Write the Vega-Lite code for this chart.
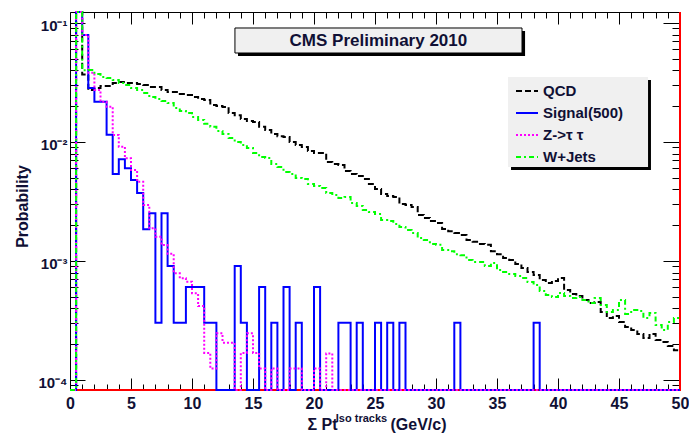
{
  "$schema": "https://vega.github.io/schema/vega-lite/v6.json",
  "width": 610,
  "height": 378,
  "autosize": {"type": "none"},
  "padding": {"left": 70, "top": 12, "right": 9, "bottom": 43},
  "background": "white",
  "config": {
    "view": {"stroke": "black", "strokeWidth": 1},
    "font": "Liberation Sans",
    "mark": {"invalid": "show"}
  },
  "data": {"values": [{}]},
  "datasets": {
    "hist": [
      {"x": 0, "QCD": 0, "Signal(500)": 0, "Z->τ τ": 0, "W+Jets": 0},
      {"x": 0.5, "QCD": 0.3, "Signal(500)": 0.3, "Z->τ τ": 0.3, "W+Jets": 0.3},
      {"x": 1, "QCD": 0.037, "Signal(500)": 0.0793, "Z->τ τ": 0.0793, "W+Jets": 0.04},
      {"x": 1.5, "QCD": 0.0273, "Signal(500)": 0.0284, "Z->τ τ": 0.0382, "W+Jets": 0.0403},
      {"x": 2, "QCD": 0.0284, "Signal(500)": 0.0218, "Z->τ τ": 0.0274, "W+Jets": 0.0373},
      {"x": 2.5, "QCD": 0.0296, "Signal(500)": 0.0218, "Z->τ τ": 0.0218, "W+Jets": 0.0352},
      {"x": 3, "QCD": 0.0296, "Signal(500)": 0.0115, "Z->τ τ": 0.0198, "W+Jets": 0.0345},
      {"x": 3.5, "QCD": 0.0313, "Signal(500)": 0.00538, "Z->τ τ": 0.01146, "W+Jets": 0.0332},
      {"x": 4, "QCD": 0.0319, "Signal(500)": 0.00716, "Z->τ τ": 0.00912, "W+Jets": 0.0313},
      {"x": 4.5, "QCD": 0.0313, "Signal(500)": 0.00601, "Z->τ τ": 0.0073, "W+Jets": 0.0301},
      {"x": 5, "QCD": 0.0313, "Signal(500)": 0.0048, "Z->τ τ": 0.00582, "W+Jets": 0.0284},
      {"x": 5.5, "QCD": 0.0307, "Signal(500)": 0.00372, "Z->τ τ": 0.00463, "W+Jets": 0.0273},
      {"x": 6, "QCD": 0.0301, "Signal(500)": 0.00185, "Z->τ τ": 0.00296, "W+Jets": 0.0258},
      {"x": 6.5, "QCD": 0.029, "Signal(500)": 0.00252, "Z->τ τ": 0.00188, "W+Jets": 0.0239},
      {"x": 7, "QCD": 0.029, "Signal(500)": 0.000303, "Z->τ τ": 0.0016, "W+Jets": 0.023},
      {"x": 7.5, "QCD": 0.0273, "Signal(500)": 0.00252, "Z->τ τ": 0.00136, "W+Jets": 0.0221},
      {"x": 8, "QCD": 0.0263, "Signal(500)": 0.000909, "Z->τ τ": 0.00115, "W+Jets": 0.0213},
      {"x": 8.5, "QCD": 0.0263, "Signal(500)": 0.000303, "Z->τ τ": 0.000789, "W+Jets": 0.0193},
      {"x": 9, "QCD": 0.0253, "Signal(500)": 0.000303, "Z->τ τ": 0.000716, "W+Jets": 0.0182},
      {"x": 9.5, "QCD": 0.0248, "Signal(500)": 0.000606, "Z->τ τ": 0.00067, "W+Jets": 0.0175},
      {"x": 10, "QCD": 0.0239, "Signal(500)": 0.000606, "Z->τ τ": 0.000536, "W+Jets": 0.0162},
      {"x": 10.5, "QCD": 0.023, "Signal(500)": 0.000606, "Z->τ τ": 0.000419, "W+Jets": 0.0153},
      {"x": 11, "QCD": 0.0225, "Signal(500)": 0.000303, "Z->τ τ": 0.000169, "W+Jets": 0.0142},
      {"x": 11.5, "QCD": 0.0205, "Signal(500)": 0.000303, "Z->τ τ": 0.000125, "W+Jets": 0.0134},
      {"x": 12, "QCD": 0.0201, "Signal(500)": 0, "Z->τ τ": 0.000247, "W+Jets": 0.0124},
      {"x": 12.5, "QCD": 0.0197, "Signal(500)": 0, "Z->τ τ": 0.000206, "W+Jets": 0.0117},
      {"x": 13, "QCD": 0.0175, "Signal(500)": 0, "Z->τ τ": 0.000206, "W+Jets": 0.0108},
      {"x": 13.5, "QCD": 0.0168, "Signal(500)": 0.000909, "Z->τ τ": 0, "W+Jets": 0.01},
      {"x": 14, "QCD": 0.0156, "Signal(500)": 0.000303, "Z->τ τ": 0.000169, "W+Jets": 0.00944},
      {"x": 14.5, "QCD": 0.015, "Signal(500)": 0, "Z->τ τ": 0.000247, "W+Jets": 0.00891},
      {"x": 15, "QCD": 0.0147, "Signal(500)": 0, "Z->τ τ": 0.000169, "W+Jets": 0.00808},
      {"x": 15.5, "QCD": 0.0134, "Signal(500)": 0.000606, "Z->τ τ": 0.000125, "W+Jets": 0.00748},
      {"x": 16, "QCD": 0.0126, "Signal(500)": 0, "Z->τ τ": 0, "W+Jets": 0.00734},
      {"x": 16.5, "QCD": 0.0117, "Signal(500)": 0.000303, "Z->τ τ": 0.000125, "W+Jets": 0.00653},
      {"x": 17, "QCD": 0.0112, "Signal(500)": 0, "Z->τ τ": 0, "W+Jets": 0.00616},
      {"x": 17.5, "QCD": 0.011, "Signal(500)": 0.000606, "Z->τ τ": 0, "W+Jets": 0.0056},
      {"x": 18, "QCD": 0.01, "Signal(500)": 0, "Z->τ τ": 0.000125, "W+Jets": 0.00539},
      {"x": 18.5, "QCD": 0.00944, "Signal(500)": 0.000303, "Z->τ τ": 0.000125, "W+Jets": 0.00498},
      {"x": 19, "QCD": 0.00908, "Signal(500)": 0, "Z->τ τ": 0, "W+Jets": 0.00489},
      {"x": 19.5, "QCD": 0.0084, "Signal(500)": 0, "Z->τ τ": 0, "W+Jets": 0.00443},
      {"x": 20, "QCD": 0.00808, "Signal(500)": 0.000606, "Z->τ τ": 0.000125, "W+Jets": 0.00427},
      {"x": 20.5, "QCD": 0.00808, "Signal(500)": 0, "Z->τ τ": 0, "W+Jets": 0.00411},
      {"x": 21, "QCD": 0.00679, "Signal(500)": 0, "Z->τ τ": 0.000167, "W+Jets": 0.00373},
      {"x": 21.5, "QCD": 0.00653, "Signal(500)": 0, "Z->τ τ": 0, "W+Jets": 0.00359},
      {"x": 22, "QCD": 0.00641, "Signal(500)": 0.000303, "Z->τ τ": 0, "W+Jets": 0.00338},
      {"x": 22.5, "QCD": 0.00571, "Signal(500)": 0.000303, "Z->τ τ": 0, "W+Jets": 0.00345},
      {"x": 23, "QCD": 0.00539, "Signal(500)": 0, "Z->τ τ": 0, "W+Jets": 0.00307},
      {"x": 23.5, "QCD": 0.00519, "Signal(500)": 0.000303, "Z->τ τ": 0, "W+Jets": 0.0029},
      {"x": 24, "QCD": 0.00489, "Signal(500)": 0, "Z->τ τ": 0, "W+Jets": 0.00268},
      {"x": 24.5, "QCD": 0.00443, "Signal(500)": 0, "Z->τ τ": 0, "W+Jets": 0.00258},
      {"x": 25, "QCD": 0.00403, "Signal(500)": 0.000303, "Z->τ τ": 0, "W+Jets": 0.00248},
      {"x": 25.5, "QCD": 0.00366, "Signal(500)": 0, "Z->τ τ": 0, "W+Jets": 0.00221},
      {"x": 26, "QCD": 0.00352, "Signal(500)": 0.000303, "Z->τ τ": 0, "W+Jets": 0.00217},
      {"x": 26.5, "QCD": 0.00345, "Signal(500)": 0, "Z->τ τ": 0, "W+Jets": 0.00205},
      {"x": 27, "QCD": 0.00301, "Signal(500)": 0.000303, "Z->τ τ": 0, "W+Jets": 0.00193},
      {"x": 27.5, "QCD": 0.00296, "Signal(500)": 0, "Z->τ τ": 0, "W+Jets": 0.00182},
      {"x": 28, "QCD": 0.00284, "Signal(500)": 0, "Z->τ τ": 0, "W+Jets": 0.00172},
      {"x": 28.5, "QCD": 0.00244, "Signal(500)": 0, "Z->τ τ": 0, "W+Jets": 0.00156},
      {"x": 29, "QCD": 0.0023, "Signal(500)": 0, "Z->τ τ": 0, "W+Jets": 0.0015},
      {"x": 29.5, "QCD": 0.00217, "Signal(500)": 0, "Z->τ τ": 0, "W+Jets": 0.00139},
      {"x": 30, "QCD": 0.00209, "Signal(500)": 0, "Z->τ τ": 0, "W+Jets": 0.00137},
      {"x": 30.5, "QCD": 0.00186, "Signal(500)": 0, "Z->τ τ": 0, "W+Jets": 0.00124},
      {"x": 31, "QCD": 0.00178, "Signal(500)": 0, "Z->τ τ": 0, "W+Jets": 0.00121},
      {"x": 31.5, "QCD": 0.00172, "Signal(500)": 0.000303, "Z->τ τ": 0, "W+Jets": 0.00114},
      {"x": 32, "QCD": 0.00165, "Signal(500)": 0, "Z->τ τ": 0, "W+Jets": 0.00112},
      {"x": 32.5, "QCD": 0.0015, "Signal(500)": 0, "Z->τ τ": 0, "W+Jets": 0.00102},
      {"x": 33, "QCD": 0.00145, "Signal(500)": 0, "Z->τ τ": 0, "W+Jets": 0.000981},
      {"x": 33.5, "QCD": 0.00139, "Signal(500)": 0, "Z->τ τ": 0, "W+Jets": 0.000981},
      {"x": 34, "QCD": 0.00137, "Signal(500)": 0, "Z->τ τ": 0, "W+Jets": 0.000908},
      {"x": 34.5, "QCD": 0.00121, "Signal(500)": 0, "Z->τ τ": 0, "W+Jets": 0.000962},
      {"x": 35, "QCD": 0.00114, "Signal(500)": 0, "Z->τ τ": 0, "W+Jets": 0.00084},
      {"x": 35.5, "QCD": 0.00106, "Signal(500)": 0, "Z->τ τ": 0, "W+Jets": 0.000808},
      {"x": 36, "QCD": 0.00102, "Signal(500)": 0, "Z->τ τ": 0, "W+Jets": 0.000778},
      {"x": 36.5, "QCD": 0.000944, "Signal(500)": 0, "Z->τ τ": 0, "W+Jets": 0.000748},
      {"x": 37, "QCD": 0.000873, "Signal(500)": 0, "Z->τ τ": 0, "W+Jets": 0.00072},
      {"x": 37.5, "QCD": 0.000808, "Signal(500)": 0, "Z->τ τ": 0, "W+Jets": 0.000666},
      {"x": 38, "QCD": 0.000763, "Signal(500)": 0.000303, "Z->τ τ": 0, "W+Jets": 0.000628},
      {"x": 38.5, "QCD": 0.000692, "Signal(500)": 0, "Z->τ τ": 0, "W+Jets": 0.00056},
      {"x": 39, "QCD": 0.000653, "Signal(500)": 0, "Z->τ τ": 0, "W+Jets": 0.000519},
      {"x": 39.5, "QCD": 0.000679, "Signal(500)": 0, "Z->τ τ": 0, "W+Jets": 0.000498},
      {"x": 40, "QCD": 0.00072, "Signal(500)": 0, "Z->τ τ": 0, "W+Jets": 0.000539},
      {"x": 40.5, "QCD": 0.000571, "Signal(500)": 0, "Z->τ τ": 0, "W+Jets": 0.000508},
      {"x": 41, "QCD": 0.000529, "Signal(500)": 0, "Z->τ τ": 0, "W+Jets": 0.000489},
      {"x": 41.5, "QCD": 0.000508, "Signal(500)": 0, "Z->τ τ": 0, "W+Jets": 0.000498},
      {"x": 42, "QCD": 0.00047, "Signal(500)": 0, "Z->τ τ": 0, "W+Jets": 0.00047},
      {"x": 42.5, "QCD": 0.000443, "Signal(500)": 0, "Z->τ τ": 0, "W+Jets": 0.000443},
      {"x": 43, "QCD": 0.000452, "Signal(500)": 0, "Z->τ τ": 0, "W+Jets": 0.000489},
      {"x": 43.5, "QCD": 0.000373, "Signal(500)": 0, "Z->τ τ": 0, "W+Jets": 0.000427},
      {"x": 44, "QCD": 0.000332, "Signal(500)": 0, "Z->τ τ": 0, "W+Jets": 0.000373},
      {"x": 44.5, "QCD": 0.000345, "Signal(500)": 0, "Z->τ τ": 0, "W+Jets": 0.000388},
      {"x": 45, "QCD": 0.000307, "Signal(500)": 0, "Z->τ τ": 0, "W+Jets": 0.00047},
      {"x": 45.5, "QCD": 0.000279, "Signal(500)": 0, "Z->τ τ": 0, "W+Jets": 0.000359},
      {"x": 46, "QCD": 0.000263, "Signal(500)": 0, "Z->τ τ": 0, "W+Jets": 0.000387},
      {"x": 46.5, "QCD": 0.000244, "Signal(500)": 0, "Z->τ τ": 0, "W+Jets": 0.00038},
      {"x": 47, "QCD": 0.000225, "Signal(500)": 0, "Z->τ τ": 0, "W+Jets": 0.000332},
      {"x": 47.5, "QCD": 0.000244, "Signal(500)": 0, "Z->τ τ": 0, "W+Jets": 0.000366},
      {"x": 48, "QCD": 0.000217, "Signal(500)": 0, "Z->τ τ": 0, "W+Jets": 0.00029},
      {"x": 48.5, "QCD": 0.000209, "Signal(500)": 0, "Z->τ τ": 0, "W+Jets": 0.000263},
      {"x": 49, "QCD": 0.000193, "Signal(500)": 0, "Z->τ τ": 0, "W+Jets": 0.000307},
      {"x": 49.5, "QCD": 0.000178, "Signal(500)": 0, "Z->τ τ": 0, "W+Jets": 0.000332},
      {"x": 50, "QCD": 0.000178, "Signal(500)": 0, "Z->τ τ": 0, "W+Jets": 0.000332}
    ],
    "empty": [
      {"x": 0, "p": 0},
      {"x": 50, "p": 0},
      {"x": 50, "p": 1}
    ]
  },
  "layer": [
    {
      "mark": {"type": "rect", "fill": "black"},
      "encoding": {
        "x": {"datum": 13.77, "type": "quantitative", "axis": null},
        "x2": {"datum": 37.3},
        "y": {"datum": 0.08567, "type": "quantitative", "axis": null},
        "y2": {"datum": 0.0528}
      }
    },
    {
      "mark": {"type": "rect", "fill": "#f0f0f0", "stroke": "black", "strokeWidth": 1},
      "encoding": {
        "x": {"datum": 13.52, "type": "quantitative", "axis": null},
        "x2": {"datum": 37.05},
        "y": {"datum": 0.09078, "type": "quantitative", "axis": null},
        "y2": {"datum": 0.05595}
      }
    },
    {
      "mark": {"type": "text", "text": "CMS Preliminary 2010", "font": "Liberation Sans", "fontSize": 17, "fontWeight": "bold", "color": "#101035", "align": "center", "baseline": "middle"},
      "encoding": {
        "x": {"datum": 25.28, "type": "quantitative", "axis": null},
        "y": {"datum": 0.0706, "type": "quantitative", "axis": null}
      }
    },
    {
      "mark": {"type": "rect", "fill": "black"},
      "encoding": {
        "x": {"datum": 36.15, "type": "quantitative", "axis": null},
        "x2": {"datum": 47.62},
        "y": {"datum": 0.03319, "type": "quantitative", "axis": null},
        "y2": {"datum": 0.005816}
      }
    },
    {
      "mark": {"type": "rect", "fill": "#f0f0f0"},
      "encoding": {
        "x": {"datum": 35.9, "type": "quantitative", "axis": null},
        "x2": {"datum": 47.38},
        "y": {"datum": 0.03517, "type": "quantitative", "axis": null},
        "y2": {"datum": 0.006164}
      }
    },
    {
      "data": {"name": "empty"},
      "mark": {"type": "line", "color": "#ff0000", "strokeWidth": 2},
      "encoding": {
        "x": {
          "field": "x", "type": "quantitative",
          "scale": {"domain": [0, 50], "nice": false, "zero": false},
          "axis": {
            "orient": "top", "values": [0,1,2,3,4,5,6,7,8,9,10,11,12,13,14,15,16,17,18,19,20,21,22,23,24,25,26,27,28,29,30,31,32,33,34,35,36,37,38,39,40,41,42,43,44,45,46,47,48,49,50],
            "labels": false, "domain": false, "grid": false, "tickColor": "black",
            "tickSize": {"condition": {"test": "datum.value % 5 == 0", "value": -12}, "value": -6},
            "title": "Iso tracks", "titleFont": "Liberation Sans", "titleFontSize": 11, "titleFontWeight": "bold", "titleColor": "#101035",
            "titleX": 291, "titleY": 406, "titleAngle": 0, "titleAlign": "center", "titleBaseline": "middle"
          }
        },
        "y": {
          "field": "p", "type": "quantitative",
          "scale": {"type": "log", "domain": [0.0000824, 0.1237], "clamp": true, "nice": false},
          "axis": {
            "orient": "right",
            "values": [0.00009,0.0001,0.0002,0.0003,0.0004,0.0005,0.0006,0.0007,0.0008,0.0009,0.001,0.002,0.003,0.004,0.005,0.006,0.007,0.008,0.009,0.01,0.02,0.03,0.04,0.05,0.06,0.07,0.08,0.09,0.1],
            "labels": false, "domain": false, "grid": false, "tickColor": "black",
            "tickSize": {"condition": {"test": "datum.value == 0.1 || datum.value == 0.01 || datum.value == 0.001 || datum.value == 0.0001", "value": -17}, "value": -8},
            "title": "(GeV/c)", "titleFont": "Liberation Sans", "titleFontSize": 16, "titleFontWeight": "bold", "titleColor": "#101035",
            "titleX": -262, "titleY": 412, "titleAngle": 0, "titleAlign": "center", "titleBaseline": "middle"
          }
        }
      }
    },
    {
      "data": {"name": "hist"},
      "transform": [
        {"fold": ["QCD", "Signal(500)", "Z->τ τ", "W+Jets"], "as": ["series", "p"]}
      ],
      "mark": {"type": "line", "interpolate": "step-after", "strokeWidth": 2, "strokeCap": "butt"},
      "encoding": {
        "x": {
          "field": "x", "type": "quantitative",
          "scale": {"domain": [0, 50], "nice": false, "zero": false},
          "axis": {
            "orient": "bottom", "values": [0,1,2,3,4,5,6,7,8,9,10,11,12,13,14,15,16,17,18,19,20,21,22,23,24,25,26,27,28,29,30,31,32,33,34,35,36,37,38,39,40,41,42,43,44,45,46,47,48,49,50],
            "labelExpr": "datum.value % 5 == 0 ? datum.label : ''", "format": "d",
            "labelOverlap": false, "labelBound": false, "labelFlush": false,
            "labelFont": "Liberation Sans", "labelFontSize": 16, "labelFontWeight": "bold", "labelColor": "#101035", "labelPadding": 17,
            "domain": false, "grid": false, "tickColor": "black",
            "tickSize": {"condition": {"test": "datum.value % 5 == 0", "value": -12}, "value": -6},
            "title": "Σ Pt",
            "titleFont": "Liberation Sans", "titleFontSize": 16, "titleFontWeight": "bold", "titleColor": "#101035",
            "titleX": 252, "titleY": 34, "titleAlign": "center", "titleBaseline": "middle"
          }
        },
        "y": {
          "field": "p", "type": "quantitative",
          "scale": {"type": "log", "domain": [0.0000824, 0.1237], "clamp": true, "nice": false},
          "axis": {
            "orient": "left",
            "values": [0.00009,0.0001,0.0002,0.0003,0.0004,0.0005,0.0006,0.0007,0.0008,0.0009,0.001,0.002,0.003,0.004,0.005,0.006,0.007,0.008,0.009,0.01,0.02,0.03,0.04,0.05,0.06,0.07,0.08,0.09,0.1],
            "labelExpr": "datum.value == 0.1 ? '10⁻¹' : datum.value == 0.01 ? '10⁻²' : datum.value == 0.001 ? '10⁻³' : datum.value == 0.0001 ? '10⁻⁴' : ''",
            "labelOverlap": false, "labelBound": false, "labelFlush": false,
            "labelFont": "Liberation Sans", "labelFontSize": 15, "labelFontWeight": "bold", "labelColor": "#101035", "labelPadding": 18, "labelOffset": 3,
            "domain": false, "grid": false, "tickColor": "black",
            "tickSize": {"condition": {"test": "datum.value == 0.1 || datum.value == 0.01 || datum.value == 0.001 || datum.value == 0.0001", "value": -15}, "value": -8},
            "title": "Probability", "titleFont": "Liberation Sans", "titleFontSize": 16, "titleFontWeight": "bold", "titleColor": "#101035",
            "titleX": -48, "titleY": 194, "titleAngle": -90, "titleAlign": "center", "titleBaseline": "middle"
          }
        },
        "color": {
          "field": "series", "type": "nominal",
          "scale": {"domain": ["QCD", "Signal(500)", "Z->τ τ", "W+Jets"], "range": ["#000000", "#0000ff", "#ff00ff", "#00ff00"]},
          "legend": {
            "orient": "none", "legendX": 445, "legendY": 67, "title": null,
            "symbolType": "stroke", "symbolSize": 484, "symbolStrokeWidth": 2,
            "labelFont": "Liberation Sans", "labelFontSize": 15, "labelFontWeight": "bold", "labelColor": "#101035",
            "labelOffset": 4, "rowPadding": 2, "padding": 0
          }
        },
        "strokeDash": {
          "field": "series", "type": "nominal",
          "scale": {"domain": ["QCD", "Signal(500)", "Z->τ τ", "W+Jets"], "range": [[6, 3], [1, 0], [2, 2], [5, 3, 2, 3]]},
          "legend": {
            "orient": "none", "legendX": 445, "legendY": 67, "title": null,
            "symbolType": "stroke", "symbolSize": 484, "symbolStrokeWidth": 2,
            "labelFont": "Liberation Sans", "labelFontSize": 15, "labelFontWeight": "bold", "labelColor": "#101035",
            "labelOffset": 4, "rowPadding": 2, "padding": 0
          }
        }
      }
    }
  ],
  "resolve": {"axis": {"x": "independent", "y": "independent"}}
}
